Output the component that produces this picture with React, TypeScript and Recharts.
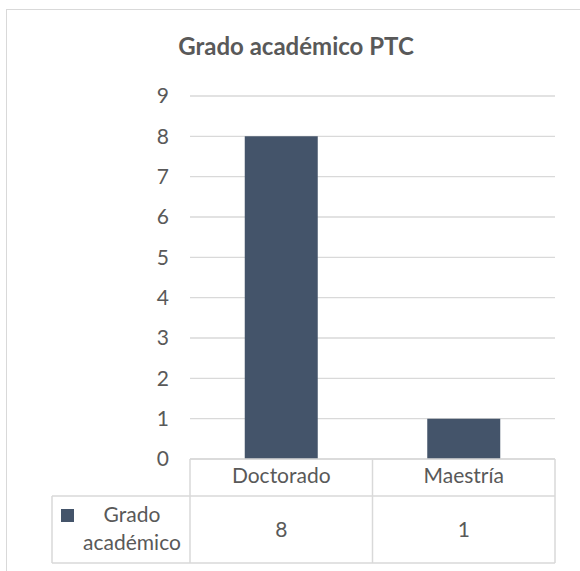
import { Bar, BarChart, CartesianGrid, XAxis, YAxis } from "recharts";

const categories = ["Doctorado", "Maestría"];
const values = [8, 1];
const yTicks = [0, 1, 2, 3, 4, 5, 6, 7, 8, 9];
const seriesName = "Grado académico";
const title = "Grado académico PTC";

const W = 580;
const H = 571;
const FONT = "Lato, 'Open Sans', sans-serif";
const TEXT = "#595959";
const GRID = "#D9D9D9";
const BAR = "#44546A";

// plot area
const PLOT_LEFT = 190;
const PLOT_RIGHT = 555;
const PLOT_TOP = 96;
const PLOT_BOTTOM = 459;
// data table below the plot
const ROW1_BOTTOM = 496;
const ROW2_BOTTOM = 563;
const TABLE_LEFT = 52;

const data = categories.map((c, i) => ({ name: c, value: values[i] }));

export default function App() {
  const colW = (PLOT_RIGHT - PLOT_LEFT) / categories.length;
  return (
    <div
      style={{
        position: "absolute",
        left: 0,
        top: 0,
        width: W,
        height: H,
        overflow: "hidden",
        background: "#fff",
        fontFamily: FONT,
      }}
    >
      <div
        style={{
          position: "absolute",
          left: 6,
          top: 9,
          width: W,
          height: H,
          border: `1px solid ${GRID}`,
        }}
      />
      <div
        style={{
          position: "absolute",
          left: 0,
          width: W,
          top: 31,
          textAlign: "center",
          fontWeight: 700,
          fontSize: 24,
          color: TEXT,
          paddingLeft: 6,
        }}
      >
        {title}
      </div>
      <BarChart
        width={W}
        height={H}
        data={data}
        margin={{ top: PLOT_TOP, right: W - PLOT_RIGHT, bottom: H - ROW1_BOTTOM, left: 0 }}
        barCategoryGap="30%"
        style={{ position: "absolute", left: 0, top: 0 }}
      >
        <CartesianGrid vertical={false} stroke={GRID} strokeWidth={1.3} />
        <XAxis
          dataKey="name"
          tickLine={false}
          axisLine={{ stroke: GRID, strokeWidth: 1.3 }}
          tick={{ fill: TEXT, fontSize: 21, fontFamily: FONT }}
          tickMargin={3}
          height={ROW1_BOTTOM - PLOT_BOTTOM}
        />
        <YAxis
          width={PLOT_LEFT}
          domain={[0, 9]}
          ticks={yTicks}
          interval={0}
          tickLine={false}
          axisLine={false}
          tick={{ fill: TEXT, fontSize: 21, fontFamily: FONT }}
          tickMargin={15}
        />
        <Bar dataKey="value" fill={BAR} isAnimationActive={false} />
      </BarChart>
      <svg
        width={W}
        height={H}
        style={{ position: "absolute", left: 0, top: 0, pointerEvents: "none" }}
      >
        <g stroke={GRID} strokeWidth={1.5} fill="none">
          <line x1={PLOT_LEFT} y1={PLOT_BOTTOM} x2={PLOT_LEFT} y2={ROW2_BOTTOM} />
          {categories.map((c, i) => (
            <line
              key={c}
              x1={PLOT_LEFT + colW * (i + 1)}
              y1={PLOT_BOTTOM}
              x2={PLOT_LEFT + colW * (i + 1)}
              y2={ROW2_BOTTOM}
            />
          ))}
          <line x1={TABLE_LEFT} y1={ROW1_BOTTOM} x2={PLOT_RIGHT} y2={ROW1_BOTTOM} />
          <line x1={TABLE_LEFT} y1={ROW2_BOTTOM} x2={PLOT_RIGHT} y2={ROW2_BOTTOM} />
          <line x1={TABLE_LEFT} y1={ROW1_BOTTOM} x2={TABLE_LEFT} y2={ROW2_BOTTOM} />
        </g>
        <rect x={61} y={509} width={13} height={13} fill={BAR} />
        <text
          x={132}
          textAnchor="middle"
          fill={TEXT}
          fontSize={21}
          fontFamily={FONT}
        >
          <tspan x={132} y={522}>{seriesName.split(" ")[0]}</tspan>
          <tspan x={132} y={550}>{seriesName.split(" ")[1]}</tspan>
        </text>
        {values.map((v, i) => (
          <text
            key={i}
            x={PLOT_LEFT + colW * (i + 0.5)}
            y={(ROW1_BOTTOM + ROW2_BOTTOM) / 2}
            dy="0.35em"
            textAnchor="middle"
            fill={TEXT}
            fontSize={21}
            fontFamily={FONT}
          >
            {v}
          </text>
        ))}
      </svg>
    </div>
  );
}
